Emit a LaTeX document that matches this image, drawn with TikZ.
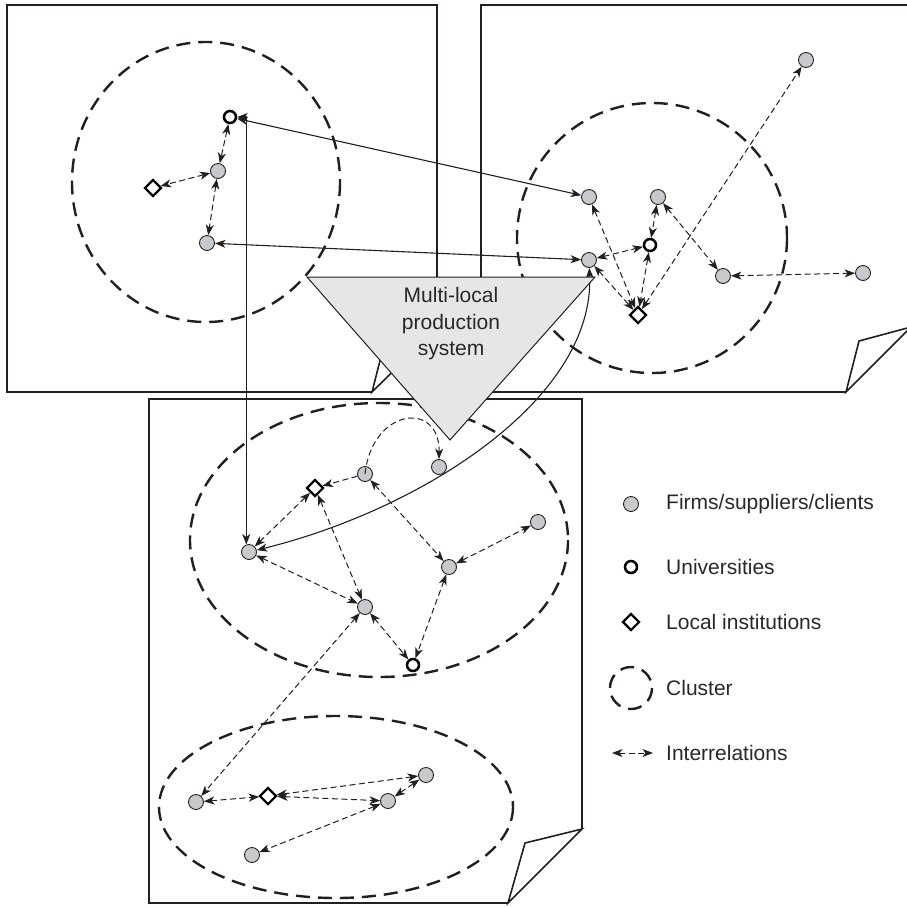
\documentclass[tikz,border=0pt]{standalone}
\usepackage{fontspec}
\setmainfont{Liberation Sans}
\usetikzlibrary{arrows.meta,shapes.geometric}
\definecolor{firmgray}{RGB}{200,201,204}
\definecolor{trigray}{RGB}{229,230,231}
\definecolor{ink}{RGB}{35,31,32}
\definecolor{txt}{RGB}{40,40,40}
\begin{document}
\begin{tikzpicture}[x=1pt,y=-1pt,
  ht/.tip={Stealth[length=10.5pt,width=8pt,inset=3pt]},
  firm/.style={circle,draw=ink,fill=firmgray,line width=0.9pt,minimum size=15pt,inner sep=0pt},
  univ/.style={circle,draw=black,fill=white,line width=2.5pt,minimum size=12pt,inner sep=0pt},
  inst/.style={diamond,draw=black,fill=white,line width=2.2pt,minimum size=17pt,inner sep=0pt},
  cluster/.style={draw=ink,line width=2.4pt,dash pattern=on 14pt off 8pt},
  link/.style={draw=ink,line width=1pt,dash pattern=on 6pt off 3.5pt,ht-ht},
  onelink/.style={link,-ht},
  tie/.style={draw=ink,line width=1.1pt,ht-ht},
  sheet/.style={draw=ink,line width=2pt,line join=miter},
  lbl/.style={anchor=west,inner sep=0pt,text=txt,font=\fontsize{21}{25}\selectfont}
]
\useasboundingbox (0,0) rectangle (907,906);

% ---- sheets with curled corners ----
\draw[sheet] (372,392) -- (7,392) -- (7,5) -- (437,5) -- (437,328);
\draw[sheet,line width=1.6pt] (372,392) -- (385,341) -- (437,328) -- cycle;
\draw[sheet] (846,392) -- (481,392) -- (481,5) -- (911,5) -- (911,328);
\draw[sheet,line width=1.6pt] (846,392) -- (859,341) -- (911,327) -- cycle;
\draw[sheet] (508,903) -- (149,903) -- (149,399) -- (582,399) -- (582,829);
\draw[sheet,line width=1.6pt] (508,903) -- (525,843) -- (582,829) -- cycle;

% ---- clusters ----
\draw[cluster] (206,182) ellipse [x radius=134,y radius=140];
\draw[cluster] (652,238) ellipse [x radius=135,y radius=135];
\draw[cluster] (379,540) ellipse [x radius=189,y radius=137];
\draw[cluster] (336,807) ellipse [x radius=177,y radius=91];

% ---- actors ----
\node[univ] (tu) at (230,117) {};
\node[firm] (ta) at (218,171) {};
\node[inst] (td) at (153,188) {};
\node[firm] (tb) at (207,243) {};

\node[firm] (r1) at (589,197) {};
\node[firm] (r2) at (658,197) {};
\node[univ] (ru) at (650,245) {};
\node[firm] (r3) at (589,260) {};
\node[inst] (rd) at (638,315) {};
\node[firm] (r4) at (723,276) {};
\node[firm] (r5) at (863,273) {};
\node[firm] (r6) at (806,60) {};

\node[firm] (bf1) at (249,552) {};
\node[inst] (bd) at (315,488) {};
\node[firm] (bf2) at (365,474) {};
\node[firm] (bf3) at (439,467) {};
\node[firm] (bf4) at (538,522) {};
\node[firm] (bf5) at (449,567) {};
\node[firm] (bf6) at (365,607) {};
\node[univ] (bu) at (413,665) {};

\node[firm] (lf1) at (196,802) {};
\node[inst] (ld) at (268,796) {};
\node[firm] (lf2) at (388,801) {};
\node[firm] (lf3) at (426,775) {};
\node[firm] (lf4) at (252,855) {};

% ---- local interrelations ----
\draw[link] (tu) -- (ta);
\draw[link] (ta) -- (td);
\draw[link] (ta) -- (tb);

\draw[link] (r1) -- (rd);
\draw[link] (r3) -- (ru);
\draw[link] (r2) -- (ru);
\draw[link] (ru) -- (rd);
\draw[link] (r3) -- (rd);
\draw[link] (r2) -- (r4);
\draw[link] (r4) -- (r5);
\draw[link] (rd) -- (r6);

\draw[onelink] (bf2) -- (bd);
\draw[onelink] (bf2.center) .. controls (372,408) and (440,400) .. (bf3.north);
\draw[link] (bf2) -- (bf5);
\draw[link] (bd) -- (bf1);
\draw[link] (bd) -- (bf6);
\draw[link] (bf1) -- (bf6);
\draw[link] (bf6) -- (bu);
\draw[link] (bf5) -- (bu);
\draw[link] (bf5) -- (bf4);
\draw[link] (bf6) -- (lf1);

\draw[link] (lf1) -- (ld);
\draw[link] (ld) -- (lf3);
\draw[link] (ld) -- (lf2);
\draw[link] (lf2) -- (lf3);
\draw[link] (lf2) -- (lf4);

% ---- links between clusters ----
\draw[tie] (tu) -- (r1);
\draw[tie] (tb) -- (r3);
\draw[tie] (tu) -| (bf1.110);
\draw[tie] (r3) .. controls (595,400) and (420,510) .. (bf1);

% ---- production system ----
\filldraw[fill=trigray,draw=ink,line width=1pt,line join=miter] (307,277) -- (595,277) -- (450,440) -- cycle;
\node[align=center,inner sep=0pt,text=txt,font=\fontsize{21}{26.5}\selectfont] (mlps) at (451,324) {Multi-local\\production\\system};

% ---- legend ----
\node[firm] (kf) at (631,504) {};
\node[univ] (ku) at (631,567) {};
\node[inst] (kd) at (631,622) {};
\draw[cluster] (631,688) circle [radius=21];
\coordinate (ka) at (612,753);
\coordinate (kb) at (653,753);
\draw[link] (ka) -- (kb);
\node[lbl] at (666,504) {Firms/suppliers/clients};
\node[lbl] at (666,567) {Universities};
\node[lbl] at (666,622) {Local institutions};
\node[lbl] at (666,688) {Cluster};
\node[lbl] at (666,753) {Interrelations};
\end{tikzpicture}
\end{document}
